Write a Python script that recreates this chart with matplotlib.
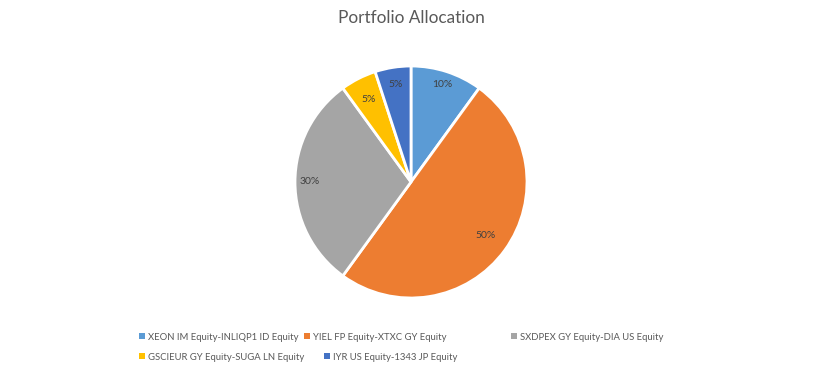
import numpy as np
import matplotlib.pyplot as plt
from matplotlib.patches import Patch

plt.rcParams['font.family'] = ['Lato', 'DejaVu Sans']

labels = [
    "XEON IM Equity-INLIQP1 ID Equity",
    "YIEL FP Equity-XTXC GY Equity",
    "SXDPEX GY Equity-DIA US Equity",
    "GSCIEUR GY Equity-SUGA LN Equity",
    "IYR US Equity-1343 JP Equity",
]
weights = [10, 50, 30, 5, 5]
colors = ["#5B9BD5", "#ED7D31", "#A5A5A5", "#FFC000", "#4472C4"]

# label distance from centre for each slice (Excel "best fit")
label_dist = [0.88, 0.79, 0.87, 0.8, 0.85]

fig = plt.figure(figsize=(8.28, 3.75), dpi=100)
W, H = 828, 375
cx, cy, r = 411, 182, 116
ax = fig.add_axes([(cx - r) / W, (H - cy - r) / H, 2 * r / W, 2 * r / H])

wedges, _ = ax.pie(
    weights,
    colors=colors,
    startangle=90,
    counterclock=False,
    radius=1.0,
    wedgeprops=dict(edgecolor="white", linewidth=2),
)
ax.set_xlim(-1, 1)
ax.set_ylim(-1, 1)
ax.set_aspect("equal")
ax.axis("off")

for w, v, d in zip(wedges, weights, label_dist):
    ang = np.deg2rad((w.theta1 + w.theta2) / 2)
    ax.text(d * np.cos(ang), d * np.sin(ang), f"{v}%",
            ha="center", va="center", fontsize=7.5, color="#404040")

fig.text(0.497, 1 - 18 / H, "Portfolio Allocation", ha="center", va="center",
         fontsize=12.4, color="#595959")

# legend entries, Excel-style layout
legend_pos = [(139, 337), (304, 337), (511, 337), (139, 357), (324, 357)]
for lab, col, (lx, ly) in zip(labels, colors, legend_pos):
    fig.legend(handles=[Patch(facecolor=col, edgecolor="none")], labels=[lab],
               loc="center left", bbox_to_anchor=(lx / W, 1 - ly / H),
               frameon=False, fontsize=6.8, handlelength=0.6, handleheight=0.6,
               handletextpad=0.4, borderpad=0, borderaxespad=0,
               labelcolor="#595959")

fig.savefig("out.png", dpi=100)
